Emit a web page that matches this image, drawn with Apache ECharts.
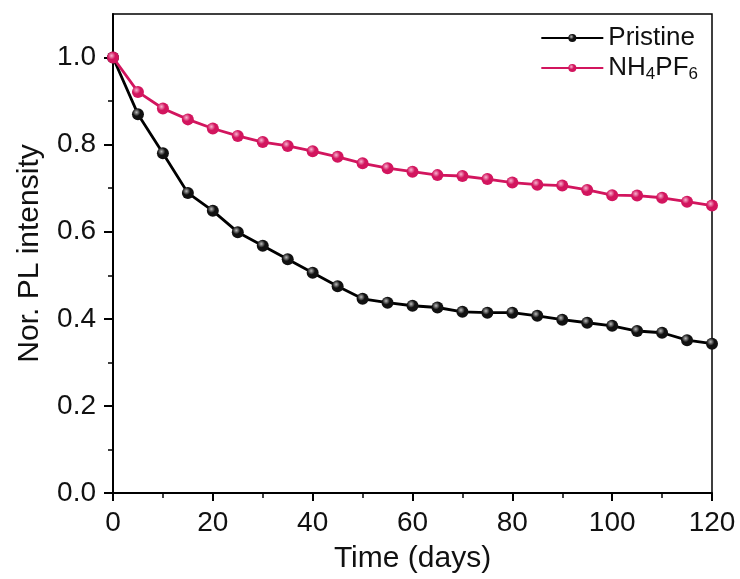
<!DOCTYPE html>
<html><head><meta charset="utf-8">
<script src="https://cdn.jsdelivr.net/npm/echarts@6/dist/echarts.min.js"></script>
<style>html,body{margin:0;padding:0;background:#fff}#c{width:740px;height:579px}</style>
</head><body><div id="c"></div>
<script>
const days = [0,5,10,15,20,25,30,35,40,45,50,55,60,65,70,75,80,85,90,95,100,105,110,115,120];
const pristine = [1.0,0.870,0.780,0.689,0.648,0.599,0.568,0.537,0.506,0.475,0.446,0.437,0.430,0.426,0.416,0.414,0.414,0.407,0.398,0.391,0.384,0.372,0.368,0.351,0.343];
const nh4pf6 = [1.0,0.921,0.883,0.858,0.837,0.820,0.806,0.797,0.785,0.772,0.757,0.746,0.738,0.730,0.728,0.721,0.713,0.708,0.706,0.696,0.684,0.683,0.678,0.669,0.660];
const seriesNames = ['Pristine','NH4PF6'];
const xTicks = [0,20,40,60,80,100,120];
const yTicks = [0.0,0.2,0.4,0.6,0.8,1.0];
const yMinorTicks = [0.1,0.3,0.5,0.7,0.9];

const FONT = 'Liberation Sans, Arial, sans-serif';
const pink = '#d2155e';
function sphere(base, hi){
  return {type:'radial',x:0.38,y:0.35,r:0.7,colorStops:[{offset:0,color:hi},{offset:0.45,color:base},{offset:1,color:base}]};
}
const chart = echarts.init(document.getElementById('c'));
chart.setOption({
  animation:false,
  grid:{left:113,right:28,top:14,bottom:84,show:true,borderColor:'#000',borderWidth:1.5},
  legend:{
    right:37,top:20,orient:'vertical',itemGap:4,itemWidth:62,itemHeight:10,
    data:seriesNames,
    textStyle:{fontFamily:FONT,fontSize:26,color:'#111',
      rich:{s:{fontFamily:FONT,fontSize:17,color:'#111',verticalAlign:'bottom',padding:[12,0,0,0]},
            n:{fontFamily:FONT,fontSize:26,color:'#111'}}},
    formatter:function(n){ if(n==='NH4PF6') return '{n|NH}{s|4}{n|PF}{s|6}'; return n; }
  },
  xAxis:{
    type:'value',min:0,max:120,interval:20,
    name:'Time (days)',nameLocation:'middle',nameGap:51,
    nameTextStyle:{fontFamily:FONT,fontSize:30,color:'#111'},
    axisLine:{onZero:false,lineStyle:{color:'#000',width:2}},
    axisTick:{inside:false,length:8,lineStyle:{width:2,color:'#000'}},
    minorTick:{show:true,splitNumber:2,length:5,lineStyle:{width:1.5,color:'#000'}},
    axisLabel:{fontFamily:FONT,fontSize:28,color:'#111',margin:16,
      formatter:function(v){return xTicks.indexOf(v)>=0?String(v):'';}},
    splitLine:{show:false}
  },
  yAxis:[{
    type:'value',min:0,max:1.1,interval:0.2,
    name:'Nor. PL intensity',nameLocation:'middle',nameGap:68,
    nameTextStyle:{fontFamily:FONT,fontSize:30,color:'#111'},
    axisLine:{onZero:false,lineStyle:{color:'#000',width:2}},
    axisTick:{inside:false,length:9,customValues:yTicks,lineStyle:{width:2,color:'#000'}},
    axisLabel:{fontFamily:FONT,fontSize:28,color:'#111',margin:17,customValues:yTicks,
      formatter:function(v){return v.toFixed(1);}},
    splitLine:{show:false}
  },{
    type:'value',min:0,max:1.1,position:'left',
    axisLine:{show:false},
    axisTick:{inside:false,length:5,customValues:yMinorTicks,lineStyle:{width:1.5,color:'#000'}},
    axisLabel:{show:false},
    splitLine:{show:false}
  }],
  series:[
    {name:'Pristine',type:'line',data:days.map((d,i)=>[d,pristine[i]]),
     symbol:'circle',symbolSize:12,lineStyle:{color:'#000',width:2.8},
     itemStyle:{color:sphere('#111','#bbb'),borderWidth:0},z:3},
    {name:'NH4PF6',type:'line',data:days.map((d,i)=>[d,nh4pf6[i]]),
     symbol:'circle',symbolSize:12,lineStyle:{color:pink,width:2.8},
     itemStyle:{color:sphere(pink,'#f7b3cf'),borderWidth:0},z:4}
  ]
});
</script></body></html>
